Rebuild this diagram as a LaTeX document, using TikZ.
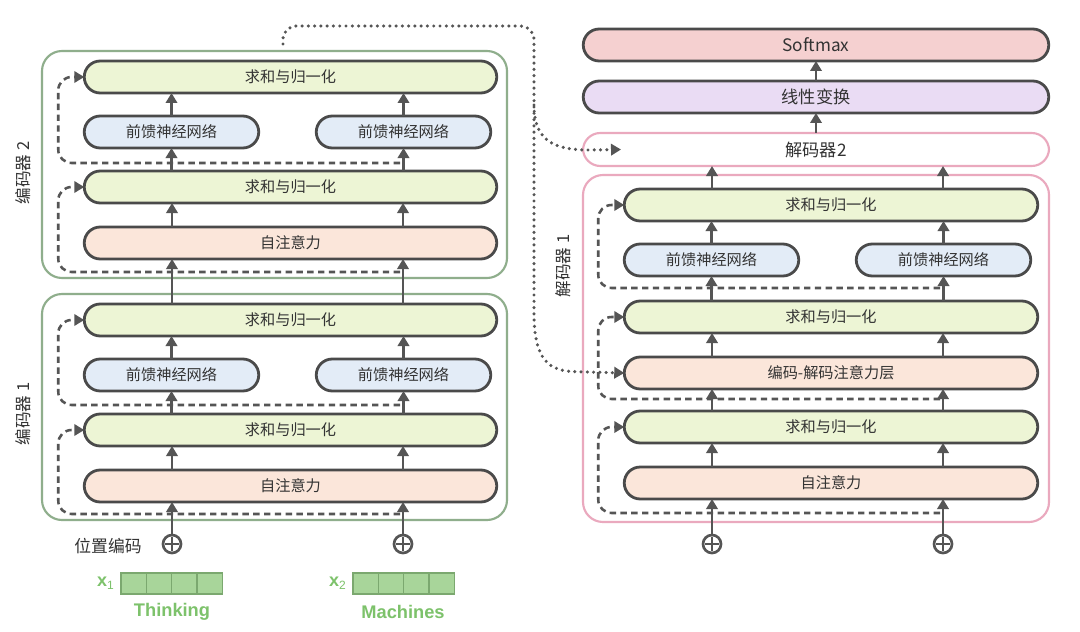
\documentclass[tikz,border=0pt]{standalone}
\usepackage{fontspec}
\newfontfamily\cjk{Noto Sans CJK SC}
\newfontfamily\lat{Liberation Sans}
\usetikzlibrary{arrows.meta}
\definecolor{bordc}{HTML}{4A4A4A}
\definecolor{arrc}{HTML}{555555}
\definecolor{txtc}{HTML}{333333}
\definecolor{addc}{HTML}{EDF5D5}
\definecolor{ffc}{HTML}{E3ECF7}
\definecolor{attc}{HTML}{FBE6DA}
\definecolor{smc}{HTML}{F5D0D0}
\definecolor{linc}{HTML}{EADCF4}
\definecolor{encc}{HTML}{8FAE8C}
\definecolor{decc}{HTML}{EAA9BE}
\definecolor{vecf}{HTML}{A8D59A}
\definecolor{vecb}{HTML}{7BA86F}
\definecolor{wordc}{HTML}{7DC26B}
\tikzset{
  wh/.style 2 args={minimum width={#1*0.75pt}, minimum height={#2*0.75pt}},
  bw/.style={minimum width={#1*0.75pt}},
  box/.style={draw=bordc, line width=2.1pt, rounded corners=12pt, minimum height=24pt,
    inner sep=0pt, outer sep=0pt, text=txtc, font=\cjk\fontsize{11.4}{13}\selectfont},
  addb/.style={box, fill=addc},
  ffb/.style={box, fill=ffc},
  attb/.style={box, fill=attc},
  bigb/.style={box, font=\cjk\fontsize{12.9}{15}\selectfont},
  outerbox/.style={draw=#1, line width=1.6pt, rounded corners=15pt, inner sep=0pt, outer sep=0pt},
  arr/.style={draw=arrc, line width=1.9pt, -{Triangle[length=7.5pt,width=8.5pt]}},
  res/.style={draw=arrc, line width=1.9pt, dash pattern=on 4.8pt off 3.3pt, rounded corners=10pt,
    -{Triangle[length=7.5pt,width=8.5pt]}},
  dotl/.style={draw=arrc, line width=2.6pt, line cap=round, dash pattern=on 0pt off 4.7pt,
    -{Triangle[length=7.5pt,width=8.5pt]}},
  plusc/.style={circle, draw=arrc, line width=2pt, minimum size=13.5pt, inner sep=0pt, outer sep=0pt,
    path picture={
      \draw[arrc, line width=2pt] ([xshift=-5pt]path picture bounding box.center) -- ([xshift=5pt]path picture bounding box.center);
      \draw[arrc, line width=2pt] ([yshift=-5pt]path picture bounding box.center) -- ([yshift=5pt]path picture bounding box.center);}},
  cell/.style={draw=vecb, fill=vecf, line width=0.8pt, minimum width=19pt, minimum height=15.75pt,
    inner sep=0pt, outer sep=0pt, anchor=west},
  sidelbl/.style={rotate=90, text=txtc, font=\cjk\fontsize{12.4}{14}\selectfont},
  word/.style={text=wordc, font=\lat\bfseries\fontsize{13.7}{15}\selectfont},
}
\begin{document}
\begin{tikzpicture}[x=0.75pt,y=-0.75pt]
\useasboundingbox[fill=white] (0,0) rectangle (1080,631);

% ---------- outer containers ----------
\node[outerbox=encc, wh={465}{227}] (enc2) at (274.5,164.5) {};
\node[outerbox=encc, wh={465}{226}] (enc1) at (274.5,407) {};
\node[outerbox=decc, wh={466}{347}] (dec1) at (816,348.5) {};

\node[sidelbl] (l2) at (23,173) {编码器 2};
\node[sidelbl] (l1) at (23,414) {编码器 1};
\node[sidelbl] (l3) at (563,266) {解码器 1};

% ---------- encoder 1 ----------
\node[attb, bw=412.5] (e1att) at (290.5,486) {自注意力};
\node[addb, bw=412.5] (e1n1) at (290.5,430) {求和与归一化};
\node[ffb, bw=174.5] (e1fa) at (171.5,375) {前馈神经网络};
\node[ffb, bw=174.5] (e1fb) at (403.5,375) {前馈神经网络};
\node[addb, bw=412.5] (e1n2) at (290.5,320) {求和与归一化};

% ---------- encoder 2 ----------
\node[attb, bw=412.5] (e2att) at (290.5,243) {自注意力};
\node[addb, bw=412.5] (e2n1) at (290.5,187) {求和与归一化};
\node[ffb, bw=174.5] (e2fa) at (171.5,132) {前馈神经网络};
\node[ffb, bw=174.5] (e2fb) at (403.5,132) {前馈神经网络};
\node[addb, bw=412.5] (e2n2) at (290.5,77) {求和与归一化};

% ---------- decoder ----------
\node[attb, bw=413.5] (d1att) at (831,483) {自注意力};
\node[addb, bw=413.5] (d1n1) at (831,427) {求和与归一化};
\node[attb, bw=413.5] (d1ed) at (831,373) {编码-解码注意力层};
\node[addb, bw=413.5] (d1n2) at (831,317) {求和与归一化};
\node[ffb, bw=174.5] (d1fa) at (711.5,260) {前馈神经网络};
\node[ffb, bw=174.5] (d1fb) at (943.5,260) {前馈神经网络};
\node[addb, bw=413.5] (d1n3) at (831,205) {求和与归一化};

\node[bigb, draw=decc, line width=1.6pt, fill=white, rounded corners=13pt, wh={466}{33}] (dec2) at (816,149.5) {解码器2};
\node[bigb, fill=linc, bw=465.5] (lin) at (816,97) {线性变换};
\node[bigb, fill=smc, bw=465.5] (sm) at (816,45) {Softmax};

% ---------- inputs ----------
\node[plusc] (p1) at (172,544) {};
\node[plusc] (p2) at (403,544) {};
\node[plusc] (q1) at (712,544) {};
\node[plusc] (q2) at (943,544) {};
\node[text=txtc, font=\cjk\fontsize{12.6}{14}\selectfont] (pos) at (108,546) {位置编码};

\node[cell] (v1a) at (121,583.5) {};
\node[cell] (v1b) at (v1a.east) {};
\node[cell] (v1c) at (v1b.east) {};
\node[cell] (v1d) at (v1c.east) {};
\node[cell] (v2a) at (353,583.5) {};
\node[cell] (v2b) at (v2a.east) {};
\node[cell] (v2c) at (v2b.east) {};
\node[cell] (v2d) at (v2c.east) {};
\node[text=wordc, font=\lat\bfseries\fontsize{13.5}{14}\selectfont, anchor=east, inner sep=0pt] (x1) at (114,583.5) {x\raisebox{-2pt}{\fontsize{9}{9}\selectfont\mdseries 1}};
\node[text=wordc, font=\lat\bfseries\fontsize{13.5}{14}\selectfont, anchor=east, inner sep=0pt] (x2) at (346,583.5) {x\raisebox{-2pt}{\fontsize{9}{9}\selectfont\mdseries 2}};
\node[word] (w1) at (172,612) {Thinking};
\node[word] (w2) at (403,612) {Machines};

% ---------- residual (dashed) connections ----------
\coordinate (r1a) at (400,514);
\coordinate (r1b) at (400,405);
\coordinate (r2a) at (400,272);
\coordinate (r2b) at (400,163);
\coordinate (s1) at (940,513);
\coordinate (s2) at (940,399);
\coordinate (s3) at (940,288);
\draw[res] (r1a) -| ([xshift=-19.5pt]e1n1.west) -- (e1n1.west);
\draw[res] (r1b) -| ([xshift=-19.5pt]e1n2.west) -- (e1n2.west);
\draw[res] (r2a) -| ([xshift=-19.5pt]e2n1.west) -- (e2n1.west);
\draw[res] (r2b) -| ([xshift=-19.5pt]e2n2.west) -- (e2n2.west);
\draw[res] (s1) -| ([xshift=-19.5pt]d1n1.west) -- (d1n1.west);
\draw[res] (s2) -| ([xshift=-19.5pt]d1n2.west) -- (d1n2.west);
\draw[res] (s3) -| ([xshift=-19.5pt]d1n3.west) -- (d1n3.west);

% ---------- main flow arrows ----------
\foreach \c in {p1,p2}{
  \draw[arr] (\c) -- (e1att.south -| \c);
  \draw[arr] (e1att.north -| \c) -- (e1n1.south -| \c);
  \draw[arr] (e1n2.north -| \c) -- (e2att.south -| \c);
  \draw[arr] (e2att.north -| \c) -- (e2n1.south -| \c);
}
\foreach \f in {e1fa,e1fb}{
  \draw[arr] (e1n1.north -| \f.south) -- (\f.south);
  \draw[arr] (\f.north) -- (e1n2.south -| \f.north);
}
\foreach \f in {e2fa,e2fb}{
  \draw[arr] (e2n1.north -| \f.south) -- (\f.south);
  \draw[arr] (\f.north) -- (e2n2.south -| \f.north);
}
\foreach \c in {q1,q2}{
  \draw[arr] (\c) -- (d1att.south -| \c);
  \draw[arr] (d1att.north -| \c) -- (d1n1.south -| \c);
  \draw[arr] (d1n1.north -| \c) -- (d1ed.south -| \c);
  \draw[arr] (d1ed.north -| \c) -- (d1n2.south -| \c);
  \draw[arr] (d1n3.north -| \c) -- (dec2.south -| \c);
}
\foreach \f in {d1fa,d1fb}{
  \draw[arr] (d1n2.north -| \f.south) -- (\f.south);
  \draw[arr] (\f.north) -- (d1n3.south -| \f.north);
}
\draw[arr] (dec2.north) -- (lin.south);
\draw[arr] (lin.north) -- (sm.south);

% ---------- encoder output (dotted) ----------
\coordinate (d0) at (283,44);
\coordinate (dt) at (534,26);
\coordinate (db) at (534,105);
\draw[dotl, rounded corners=10pt] (d0) |- (dt) -- (534,300) .. controls (534,360) and (549,371) .. (588,372) -- (d1ed.west);
\draw[dotl] (db) .. controls (534,138) and (551,150) .. (588,150) -- ([xshift=28.5pt]dec2.west);
\end{tikzpicture}
\end{document}
